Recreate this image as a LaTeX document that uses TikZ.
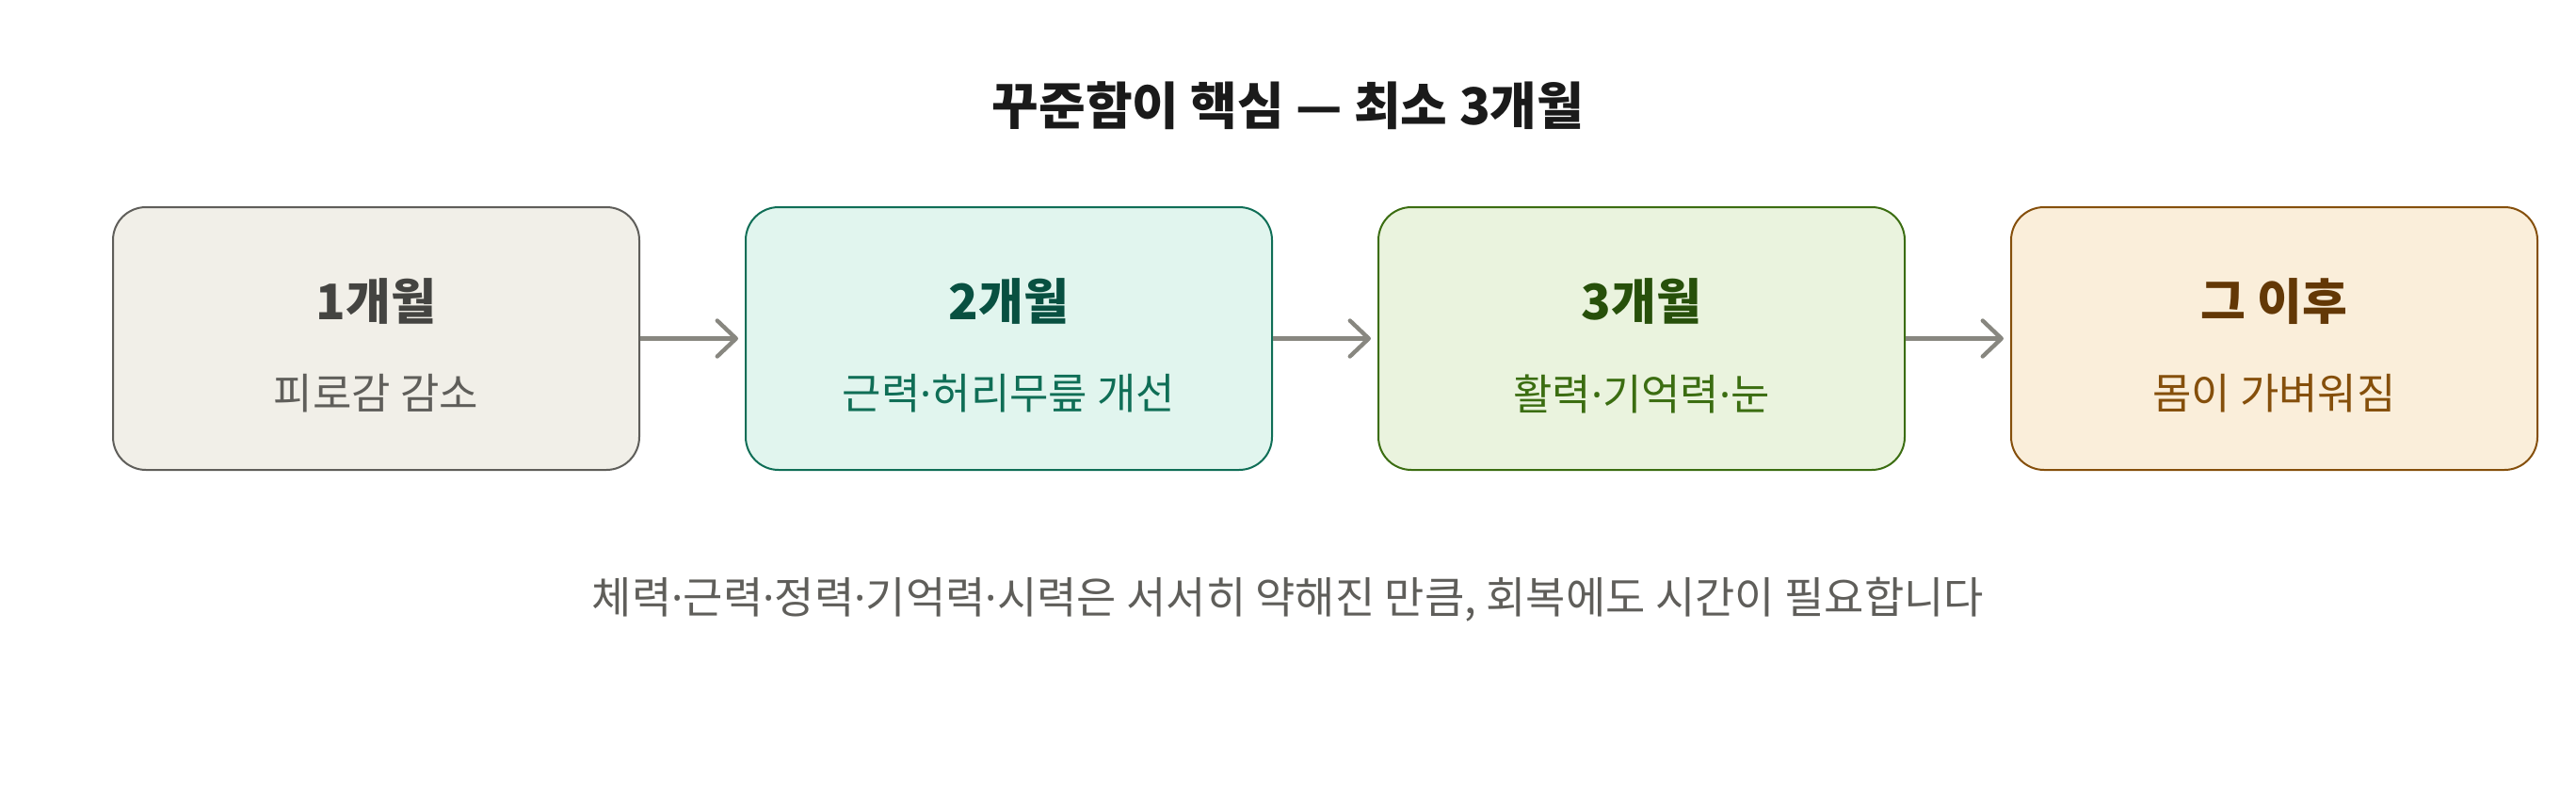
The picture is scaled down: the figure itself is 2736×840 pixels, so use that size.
\documentclass[tikz,border=0pt]{standalone}
\usepackage{fontspec}
\setmainfont{Noto Sans CJK KR}
\newfontfamily\dotfont{Noto Sans}
\newcommand{\md}{{\dotfont ·}}
\usetikzlibrary{arrows.meta}
\definecolor{titlec}{HTML}{1A1A1A}
\definecolor{notec}{HTML}{5F5E5A}
\definecolor{arrowc}{HTML}{888780}
\definecolor{fillA}{HTML}{F1EFE8}\definecolor{lineA}{HTML}{5F5E5A}\definecolor{headA}{HTML}{444441}
\definecolor{fillB}{HTML}{E1F5EE}\definecolor{lineB}{HTML}{0F6E56}\definecolor{headB}{HTML}{085041}
\definecolor{fillC}{HTML}{EAF3DE}\definecolor{lineC}{HTML}{3B6D11}\definecolor{headC}{HTML}{27500A}
\definecolor{fillD}{HTML}{FAEEDA}\definecolor{lineD}{HTML}{854F0B}\definecolor{headD}{HTML}{633806}
\begin{document}
\begin{tikzpicture}[x=0.5pt,y=-0.5pt,
  stagebox/.style={draw, rounded corners=17.5pt, line width=1pt, minimum width=279.5pt, minimum height=139.5pt, inner sep=0pt},
  headtext/.style={font=\fontsize{26pt}{30pt}\selectfont\bfseries, inner sep=0pt},
  subtext/.style={font=\fontsize{22.5pt}{27pt}\selectfont, inner sep=0pt},
  notetext/.style={font=\fontsize{23pt}{27pt}\selectfont, inner sep=0pt},
  flow/.style={draw=arrowc, line width=2.2pt, -{Straight Barb[length=10pt,width=19pt,line cap=round,line join=round]}, shorten >=3.5pt}
]
\useasboundingbox (0,0) rectangle (2736,840);
\node[font=\fontsize{27pt}{32pt}\selectfont\bfseries, text=titlec, inner sep=0pt] (title) at (1368,112) {꾸준함이 핵심 — 최소 3개월};

\node[stagebox, fill=fillA, draw=lineA] (s1) at (399.5,359.5) {};
\node[stagebox, fill=fillB, draw=lineB] (s2) at (1071.5,359.5) {};
\node[stagebox, fill=fillC, draw=lineC] (s3) at (1743.5,359.5) {};
\node[stagebox, fill=fillD, draw=lineD] (s4) at (2415.5,359.5) {};

\node[headtext, text=headA] (h1) at (399.5,320) {1개월};
\node[subtext, text=lineA] (t1) at (399.5,418) {피로감 감소};
\node[headtext, text=headB] (h2) at (1071.5,320) {2개월};
\node[subtext, text=lineB] (t2) at (1071.5,418) {근력\md 허리무릎 개선};
\node[headtext, text=headC] (h3) at (1743.5,320) {3개월};
\node[subtext, text=lineC] (t3) at (1743.5,418) {활력\md 기억력\md 눈};
\node[headtext, text=headD] (h4) at (2415.5,320) {그 이후};
\node[subtext, text=lineD] (t4) at (2415.5,418) {몸이 가벼워짐};

\draw[flow] (s1.east) -- (s2.west);
\draw[flow] (s2.east) -- (s3.west);
\draw[flow] (s3.east) -- (s4.west);

\node[notetext, text=notec] (note) at (1368,637) {체력\md 근력\md 정력\md 기억력\md 시력은 서서히 약해진 만큼, 회복에도 시간이 필요합니다};
\end{tikzpicture}
\end{document}
